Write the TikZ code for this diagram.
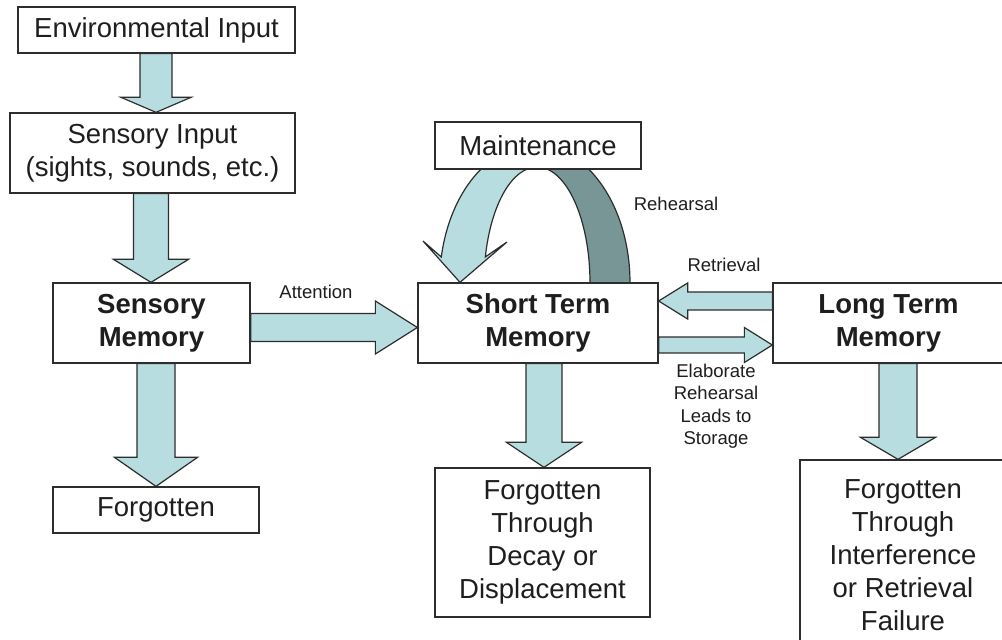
\documentclass[tikz,border=0pt]{standalone}
\usepackage{fontspec}
\setmainfont{Liberation Sans}
\usetikzlibrary{calc,backgrounds}
\definecolor{lblue}{RGB}{184,221,224}
\definecolor{dteal}{RGB}{120,150,150}
\definecolor{linec}{RGB}{45,45,45}
\definecolor{textc}{RGB}{30,30,30}
\newcommand\vdown[6]{%
  \draw[blk] let \p1=(#1.south), \p2=(#2.north) in
    ({#3pt-#4pt},{\y1}) -- ({#3pt+#4pt},{\y1}) -- ({#3pt+#4pt},{\y2+#6pt}) --
    ({#3pt+#5pt},{\y2+#6pt}) -- ({#3pt},{\y2}) -- ({#3pt-#5pt},{\y2+#6pt}) --
    ({#3pt-#4pt},{\y2+#6pt}) -- cycle;}
\newcommand\hright[6]{%
  \draw[blk] let \p1=(#1.east), \p2=(#2.west) in
    ({\x1},{#3pt-#4pt}) -- ({\x2-#6pt},{#3pt-#4pt}) -- ({\x2-#6pt},{#3pt-#5pt}) --
    ({\x2},{#3pt}) -- ({\x2-#6pt},{#3pt+#5pt}) -- ({\x2-#6pt},{#3pt+#4pt}) --
    ({\x1},{#3pt+#4pt}) -- cycle;}
\newcommand\hleft[6]{%
  \draw[blk] let \p1=(#1.west), \p2=(#2.east) in
    ({\x1},{#3pt-#4pt}) -- ({\x2+#6pt},{#3pt-#4pt}) -- ({\x2+#6pt},{#3pt-#5pt}) --
    ({\x2},{#3pt}) -- ({\x2+#6pt},{#3pt+#5pt}) -- ({\x2+#6pt},{#3pt+#4pt}) --
    ({\x1},{#3pt+#4pt}) -- cycle;}
\begin{document}
\begin{tikzpicture}[x=1pt,y=1pt,
  boxst/.style={draw=linec, fill=white, line width=1.3pt, text=textc, align=center,
    inner sep=0pt, font=\fontsize{27.5}{33}\selectfont},
  bigb/.style={boxst, font=\fontsize{27.5}{33}\selectfont\bfseries},
  small/.style={text=textc, align=center, inner sep=0pt, font=\fontsize{18.5}{22.5}\selectfont},
  blk/.style={draw=linec, fill=lblue, line width=1.2pt, line join=miter},
  dark/.style={draw=linec, fill=dteal, line width=1.2pt}]
\useasboundingbox (0,0) rectangle (1002,640);
\clip (0,0) rectangle (1002,640);
% boxes
\node[boxst, minimum width=277pt, minimum height=46pt] (env) at (156.5,610) {Environmental Input};
\node[boxst, minimum width=285pt, minimum height=80pt] (sin) at (152.5,487) {Sensory Input\\(sights, sounds, etc.)};
\node[bigb, minimum width=197pt, minimum height=80pt] (sm) at (151.5,317) {Sensory\\Memory};
\node[boxst, minimum width=206pt, minimum height=46pt] (forg) at (156,130) {Forgotten};
\node[bigb, minimum width=240pt, minimum height=80pt] (stm) at (538,317) {Short Term\\Memory};
\node[boxst, minimum width=206pt, minimum height=47pt] (maint) at (538,494.5) {Maintenance};
\node[bigb, minimum width=231pt, minimum height=80pt] (ltm) at (888.5,317) {Long Term\\Memory};
\node[boxst, minimum width=215pt, minimum height=149pt] (stmf) at (542.5,97.5) {Forgotten\\Through\\Decay or\\Displacement};
\node[boxst, minimum width=206pt, minimum height=190pt] (ltmf) at (903,85) {Forgotten\\Through\\Interference\\or Retrieval\\Failure};
% labels
\node[small] (att) at (316,348) {Attention};
\node[small] (reh) at (676,436) {Rehearsal};
\node[small] (ret) at (724,375) {Retrieval};
\node[small] (ela) at (716,234) {Elaborate\\Rehearsal\\Leads to\\Storage};
% arrows
\begin{pgfonlayer}{background}
\fill[white] (0,0) rectangle (1002,640);
\vdown{env}{sin}{156}{16}{35}{15}
\vdown{sin}{sm}{151}{17.5}{37.5}{23}
\vdown{sm}{forg}{156}{19}{41.5}{29}
\vdown{stm}{stmf}{544}{18}{37.5}{25}
\vdown{ltm}{ltmf}{898}{19}{37.5}{22}
\hright{sm}{stm}{312.5}{14}{26.5}{42}
\hleft{ltm}{stm}{339}{9}{18}{29}
\hright{stm}{ltm}{295}{8}{17.5}{28}
% maintenance rehearsal loop
\coordinate (looptip) at (stm.north -| 460,0);
\draw[dark] (630,357) arc[start angle=0,end angle=90,x radius=95pt,y radius=138pt]
  -- (537,473) arc[start angle=90,end angle=0,x radius=53pt,y radius=116pt] -- cycle;
\draw[blk] (441.3,383) arc[start angle=169.1,end angle=90,x radius=95pt,y radius=138pt]
  -- (537,473) arc[start angle=90,end angle=167,x radius=53pt,y radius=116pt]
  -- (507,398) -- (looptip) -- (423,399) -- cycle;
\end{pgfonlayer}
\end{tikzpicture}
\end{document}
